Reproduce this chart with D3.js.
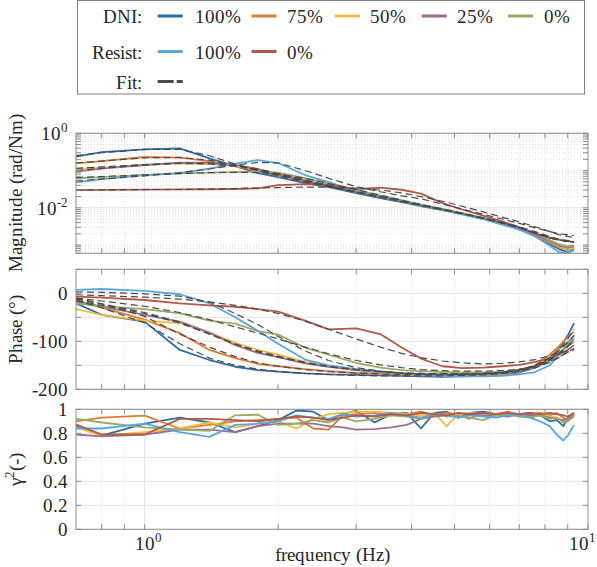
<!DOCTYPE html>
<html><head><meta charset="utf-8">
<style>
@font-face{font-family:"LocSerif";src:local("Liberation Serif"),local("LiberationSerif"),local("LiberationSerif-Regular");}
svg text, svg tspan{font-family:LocSerif,"Liberation Serif","Times New Roman",Times,serif !important;}
</style>
<script src="https://cdn.jsdelivr.net/npm/d3@7"></script>
</head><body style="margin:0">
<svg id="c" width="597" height="567" font-family="Liberation Serif"></svg>
<script>
// ---------------- DATA ----------------
const seriesKeys = ["DNI100","DNI75","DNI50","DNI25","DNI0","R100","R0"];
const legendRows = [
  {label:"DNI:", items:[["DNI100","100%"],["DNI75","75%"],["DNI50","50%"],["DNI25","25%"],["DNI0","0%"]]},
  {label:"Resist:", items:[["R100","100%"],["R0","0%"]]},
  {label:"Fit:", items:[["FIT",""]]}
];

// frequency grid (Hz) for magnitude / phase
const freqMP = [0.7,0.8,1.0,1.2,1.4,1.6,1.8,2.0,2.3,2.6,3.0,3.4,3.8,4.2,4.7,5.2,5.8,6.4,7.0,7.6,8.2,8.6,9.0,9.3];

// magnitude (rad/Nm)
const magDNI100 = [0.235,0.314,0.372,0.395,0.213,0.132,0.0857,0.0668,0.0461,0.036,0.0248,0.0182,0.0142,0.0111,0.0087,0.0068,0.0050,0.0036,0.0027,0.00174,0.00105,0.00078,0.00064,0.00075];
const magDNI75  = [0.156,0.18,0.231,0.221,0.18,0.132,0.097,0.0757,0.052,0.0383,0.0264,0.0194,0.0150,0.0117,0.0089,0.0070,0.0051,0.0037,0.0027,0.00185,0.00118,0.00088,0.00074,0.00082];
const magDNI50  = [0.11,0.12,0.141,0.156,0.15,0.132,0.11,0.0805,0.0556,0.040,0.0275,0.0200,0.0152,0.0118,0.0090,0.0070,0.0051,0.0037,0.0028,0.0019,0.00122,0.00093,0.00076,0.00085];
const magDNI25  = [0.093,0.113,0.141,0.164,0.162,0.141,0.11,0.0805,0.054,0.039,0.027,0.0198,0.0150,0.0117,0.0090,0.0070,0.0052,0.0038,0.0028,0.0019,0.00125,0.00097,0.00085,0.00092];
const magDNI0   = [0.0617,0.0668,0.0757,0.084,0.088,0.091,0.093,0.088,0.063,0.0445,0.030,0.0215,0.0160,0.0122,0.0093,0.0072,0.0054,0.0040,0.0030,0.0021,0.00135,0.00105,0.00092,0.00098];
const magR100   = [0.0482,0.0591,0.0757,0.0857,0.113,0.154,0.191,0.159,0.0757,0.049,0.0281,0.0200,0.0150,0.0115,0.0088,0.0068,0.0050,0.0036,0.0026,0.0017,0.00095,0.00064,0.00062,0.00072];
const magR0     = [0.0299,0.0303,0.0308,0.0312,0.0315,0.032,0.0332,0.0407,0.0434,0.042,0.0318,0.0349,0.0305,0.0240,0.0134,0.0090,0.0062,0.0043,0.0030,0.00202,0.00158,0.0014,0.00127,0.0012];

// magnitude fits
const fitMagDNI100 = [0.25,0.30,0.37,0.37,0.25,0.15,0.10,0.072,0.049,0.037,0.026,0.0192,0.0147,0.0115,0.0088,0.0069,0.0052,0.0039,0.0029,0.0021,0.00155,0.00135,0.00125,0.0012];
const fitMagDNI75  = [0.16,0.18,0.22,0.225,0.19,0.14,0.10,0.076,0.052,0.038,0.0265,0.0195,0.015,0.0117,0.009,0.007,0.0053,0.0039,0.0029,0.0021,0.00155,0.00135,0.00125,0.0012];
const fitMagDNI50  = [0.115,0.125,0.145,0.155,0.15,0.13,0.107,0.082,0.056,0.040,0.027,0.0198,0.0151,0.0118,0.009,0.007,0.0053,0.0039,0.0029,0.0021,0.00157,0.00137,0.00126,0.0012];
const fitMagDNI25  = [0.10,0.115,0.14,0.158,0.158,0.14,0.11,0.082,0.055,0.039,0.027,0.0198,0.0151,0.0118,0.009,0.007,0.0053,0.0039,0.0029,0.0021,0.00158,0.00138,0.00127,0.00121];
const fitMagDNI0   = [0.065,0.069,0.077,0.083,0.088,0.09,0.088,0.08,0.062,0.045,0.031,0.0218,0.016,0.0123,0.0093,0.0072,0.0054,0.0041,0.0031,0.0023,0.0017,0.00145,0.00132,0.00125];
const fitMagR100   = [0.052,0.059,0.072,0.088,0.11,0.14,0.165,0.16,0.10,0.062,0.037,0.027,0.021,0.0175,0.0125,0.0092,0.0067,0.005,0.0038,0.0029,0.0023,0.002,0.0019,0.0018];
const fitMagR0     = [0.030,0.030,0.031,0.031,0.032,0.033,0.034,0.035,0.036,0.036,0.034,0.030,0.025,0.020,0.015,0.011,0.0078,0.0056,0.0042,0.0031,0.0023,0.0019,0.0017,0.0016];

// phase (deg)
const phDNI100 = [-21,-45,-59,-118,-139,-153,-160,-163,-167,-169,-170,-171,-172,-173,-174,-173,-172,-170,-165,-155,-135,-115,-88,-62];
const phDNI75  = [-14,-30,-55,-83,-118,-135,-147,-152,-158,-162,-166,-168,-170,-171,-172,-172,-171,-169,-163,-150,-128,-110,-92,-80];
const phDNI50  = [-33,-45,-57,-62,-82,-103,-118,-128,-143,-152,-160,-165,-168,-170,-171,-171,-170,-168,-162,-152,-135,-118,-100,-90];
const phDNI25  = [-17,-28,-45,-59,-82,-108,-124,-133,-146,-153,-160,-164,-167,-169,-170,-170,-169,-167,-163,-155,-140,-125,-108,-95];
const phDNI0   = [-21,-27,-33,-42,-57,-63,-79,-86,-113,-128,-145,-155,-160,-162,-164,-165,-165,-164,-161,-152,-138,-125,-110,-101];
const phR100   = [7,9,5,-2,-21,-50,-78,-105,-138,-150,-158,-163,-167,-170,-172,-173,-173,-172,-169,-164,-150,-128,-105,-87];
const phR0     = [-7,-9,-14,-21,-25,-28,-33,-38,-57,-75,-73,-85,-113,-136,-152,-156,-155,-152,-149,-143,-135,-128,-118,-108];

// phase fits
const fitPhDNI100 = [-15,-30,-62,-105,-135,-150,-158,-163,-167,-169,-171,-172,-172,-172,-172,-171,-170,-167,-162,-152,-135,-118,-95,-75];
const fitPhDNI75  = [-10,-22,-48,-85,-112,-132,-145,-152,-159,-163,-166,-168,-169,-169,-169,-168,-167,-164,-159,-150,-135,-120,-102,-88];
const fitPhDNI50  = [-15,-25,-42,-62,-85,-105,-120,-131,-144,-152,-159,-163,-166,-167,-168,-168,-167,-165,-160,-152,-138,-125,-110,-98];
const fitPhDNI25  = [-12,-22,-40,-60,-85,-106,-122,-133,-145,-153,-159,-163,-166,-167,-168,-168,-167,-165,-160,-152,-139,-126,-111,-100];
const fitPhDNI0   = [-10,-16,-27,-40,-55,-70,-83,-95,-112,-126,-140,-149,-155,-159,-161,-162,-162,-161,-158,-152,-142,-133,-122,-115];
const fitPhR100   = [3,2,-1,-6,-18,-42,-65,-90,-120,-140,-155,-162,-166,-168,-169,-169,-168,-166,-162,-155,-144,-134,-123,-116];
const fitPhR0     = [-3,-5,-8,-12,-18,-25,-33,-42,-58,-75,-95,-112,-125,-134,-141,-145,-147,-146,-143,-138,-130,-125,-120,-118];

// coherence grid and values
const freqCoh = [0.7,0.8,1.0,1.2,1.4,1.6,1.8,2.0,2.2,2.4,2.6,2.8,3.0,3.3,3.6,3.9,4.2,4.5,4.8,5.1,5.4,5.8,6.2,6.6,7.0,7.4,7.8,8.2,8.5,8.8,9.0,9.3];
const cohDNI100 = [0.86,0.78,0.88,0.93,0.89,0.81,0.86,0.91,0.99,0.98,0.91,0.96,0.99,0.89,0.96,0.97,0.84,0.97,0.98,0.93,0.97,0.98,0.96,0.97,0.96,0.97,0.95,0.90,0.91,0.86,0.93,0.97];
const cohDNI75  = [0.90,0.93,0.947,0.84,0.87,0.90,0.91,0.92,0.93,0.84,0.83,0.95,0.96,0.97,0.95,0.96,0.98,0.95,0.97,0.96,0.92,0.97,0.96,0.98,0.95,0.96,0.97,0.95,0.97,0.93,0.90,0.96];
const cohDNI50  = [0.85,0.78,0.81,0.84,0.89,0.85,0.88,0.90,0.84,0.92,0.96,0.97,0.98,0.98,0.97,0.96,0.95,0.97,0.86,0.96,0.97,0.96,0.95,0.97,0.96,0.94,0.96,0.94,0.93,0.90,0.92,0.96];
const cohDNI25  = [0.79,0.775,0.79,0.83,0.83,0.81,0.86,0.88,0.88,0.88,0.86,0.85,0.83,0.835,0.85,0.87,0.92,0.94,0.95,0.94,0.96,0.95,0.95,0.94,0.96,0.95,0.95,0.93,0.92,0.91,0.92,0.95];
const cohDNI0   = [0.92,0.89,0.85,0.83,0.82,0.95,0.955,0.87,0.88,0.91,0.89,0.93,0.90,0.92,0.95,0.94,0.92,0.96,0.94,0.95,0.93,0.91,0.95,0.96,0.94,0.93,0.95,0.92,0.93,0.89,0.90,0.94];
const cohR100   = [0.84,0.84,0.88,0.81,0.77,0.87,0.88,0.90,0.95,0.93,0.92,0.96,0.94,0.95,0.97,0.95,0.93,0.96,0.95,0.93,0.95,0.94,0.93,0.95,0.95,0.93,0.90,0.86,0.79,0.74,0.78,0.87];
const cohR0     = [0.875,0.79,0.79,0.92,0.92,0.91,0.90,0.92,0.94,0.93,0.91,0.93,0.95,0.94,0.96,0.95,0.97,0.96,0.95,0.97,0.96,0.97,0.96,0.97,0.96,0.97,0.96,0.97,0.96,0.95,0.94,0.97];

// tick values
const xMajorTicks = [1,10];
const xMinorTicks = [0.8,0.9,2,3,4,5,6,7,8,9];
const magTickVals = [0.01,1];
const phTickVals = [-200,-150,-100,-50,0,50];
const phLabelVals = [-200,-100,0];
const cohTickVals = [0,0.2,0.4,0.6,0.8,1];

// ---------------- STYLE ----------------
const colors = {DNI100:"#2f6da6",DNI75:"#dc7a3a",DNI50:"#efbd3c",DNI25:"#9b6f94",DNI0:"#98ab66",R100:"#5ba7dc",R0:"#b0594a",FIT:"#4a4a4a"};
const FONT = "Liberation Serif";
const FONT_CHAIN = "LocSerif, \"Liberation Serif\", \"Times New Roman\", Times, serif";
const textCol = "#262626";

const magData = {DNI100:magDNI100,DNI75:magDNI75,DNI50:magDNI50,DNI25:magDNI25,DNI0:magDNI0,R100:magR100,R0:magR0};
const magFit = {DNI100:fitMagDNI100,DNI75:fitMagDNI75,DNI50:fitMagDNI50,DNI25:fitMagDNI25,DNI0:fitMagDNI0,R100:fitMagR100,R0:fitMagR0};
const phData = {DNI100:phDNI100,DNI75:phDNI75,DNI50:phDNI50,DNI25:phDNI25,DNI0:phDNI0,R100:phR100,R0:phR0};
const phFit = {DNI100:fitPhDNI100,DNI75:fitPhDNI75,DNI50:fitPhDNI50,DNI25:fitPhDNI25,DNI0:fitPhDNI0,R100:fitPhR100,R0:fitPhR0};
const cohData = {DNI100:cohDNI100,DNI75:cohDNI75,DNI50:cohDNI50,DNI25:cohDNI25,DNI0:cohDNI0,R100:cohR100,R0:cohR0};

const svg = d3.select("#c");
const Lx = 76, Rx = 588;
const x = d3.scaleLog().domain([0.7,10]).range([Lx,Rx]);

const panels = [
  {id:"mag", top:133.3, bot:253.3},
  {id:"ph", top:269.3, bot:389.3},
  {id:"coh", top:409.3, bot:529.3}
];
const yMag = d3.scaleLog().domain([6e-4,1]).range([253.3,133.3]);
const yPh = d3.scaleLinear().domain([-200,50]).range([389.3,269.3]);
const yCoh = d3.scaleLinear().domain([0,1]).range([529.3,409.3]);

const gridMajor = "#e3e3e3", gridMinor = "#d6d6d6", boxCol = "#8c8c8c";

const defs = svg.append("defs");
panels.forEach(p=>{
  defs.append("clipPath").attr("id","clip-"+p.id).append("rect")
    .attr("x",Lx).attr("y",p.top).attr("width",Rx-Lx).attr("height",p.bot-p.top);
});

const magMinor = [];
for (let e=-4;e<=0;e++) for (let k=1;k<10;k++){ const v=k*Math.pow(10,e); if(v>=6e-4 && v<=1 && !magTickVals.some(t=>Math.abs(t-v)<1e-12)) magMinor.push(v);}

function vgrid(p){
  const g = svg.append("g");
  xMinorTicks.forEach(v=>g.append("line").attr("x1",x(v)).attr("x2",x(v)).attr("y1",p.top).attr("y2",p.bot)
    .attr("stroke",gridMinor).attr("stroke-width",0.8).attr("stroke-dasharray","1,2"));
  xMajorTicks.forEach(v=>{ if(x(v)<Rx-1) g.append("line").attr("x1",x(v)).attr("x2",x(v)).attr("y1",p.top).attr("y2",p.bot)
    .attr("stroke",gridMajor).attr("stroke-width",1);});
}
function hgrid(vals, y, col, dash){
  const g = svg.append("g");
  vals.forEach(v=>g.append("line").attr("x1",Lx).attr("x2",Rx).attr("y1",y(v)).attr("y2",y(v))
    .attr("stroke",col).attr("stroke-width",dash?0.8:1).attr("stroke-dasharray",dash?"1,2":null));
}
panels.forEach(vgrid);
hgrid(magMinor, yMag, gridMinor, true);
hgrid(magTickVals, yMag, gridMajor, false);
hgrid(phTickVals, yPh, gridMajor, false);
hgrid(cohTickVals, yCoh, gridMajor, false);

function drawLines(pid, freqs, dataObj, y, dashed){
  const g = svg.append("g").attr("clip-path","url(#clip-"+pid+")");
  const line = d3.line().x((d,i)=>x(freqs[i])).y(d=>y(d));
  seriesKeys.forEach(k=>{
    g.append("path").attr("d",line(dataObj[k])).attr("fill","none")
      .attr("stroke", dashed?colors.FIT:colors[k])
      .attr("stroke-width", dashed?1.2:1.8)
      .attr("stroke-dasharray", dashed?"7,4":null)
      .attr("stroke-linejoin","round");
  });
}
drawLines("mag", freqMP, magData, yMag, false);
drawLines("mag", freqMP, magFit, yMag, true);
drawLines("ph", freqMP, phData, yPh, false);
drawLines("ph", freqMP, phFit, yPh, true);
drawLines("coh", freqCoh, cohData, yCoh, false);

const tl = 5;
function box(p, yScale, yTicks, yMinor){
  const g = svg.append("g").attr("stroke",boxCol).attr("stroke-width",1).attr("fill","none");
  g.append("rect").attr("x",Lx).attr("y",p.top).attr("width",Rx-Lx).attr("height",p.bot-p.top);
  xMajorTicks.concat(xMinorTicks).forEach(v=>{
    const xx = x(v);
    g.append("line").attr("x1",xx).attr("x2",xx).attr("y1",p.bot).attr("y2",p.bot-tl);
    g.append("line").attr("x1",xx).attr("x2",xx).attr("y1",p.top).attr("y2",p.top+tl);
  });
  yTicks.concat(yMinor||[]).forEach(v=>{
    const yy = yScale(v);
    g.append("line").attr("x1",Lx).attr("x2",Lx+tl).attr("y1",yy).attr("y2",yy);
    g.append("line").attr("x1",Rx).attr("x2",Rx-tl).attr("y1",yy).attr("y2",yy);
  });
}
box(panels[0], yMag, magTickVals, magMinor);
box(panels[1], yPh, phTickVals);
box(panels[2], yCoh, cohTickVals);

const fs = 19;
function styleText(t){
  return t.attr("font-size",fs).attr("font-family",FONT).attr("fill",textCol)
    .style("font-family",FONT_CHAIN,"important");
}
function txt(parent, xx, yy, anchor){
  return styleText(parent.append("text").attr("x",xx).attr("y",yy).attr("text-anchor",anchor));
}
function powLabel(parent, xx, yy, exp, anchor){
  const t = txt(parent, xx, yy, anchor);
  t.append("tspan").text("10");
  t.append("tspan").attr("font-size",12.5).attr("dy",-8).text(exp);
  return t;
}
magTickVals.forEach(v=>{
  powLabel(svg, 68, yMag(v)+7, String(Math.round(Math.log10(v))), "end");
});
phLabelVals.forEach(v=>{
  txt(svg, 68, yPh(v)+6.5, "end").text(String(v));
});
cohTickVals.forEach(v=>{
  txt(svg, 68, yCoh(v)+6.5, "end").text(d3.format("~g")(v));
});
// x tick labels
powLabel(svg, x(1)+4, 550, "0", "middle");
powLabel(svg, 596, 550, "1", "end");
txt(svg, (Lx+Rx)/2, 561, "middle").text("frequency (Hz)");

function ylab(label, cy, extra){
  const t = styleText(svg.append("text").attr("transform",`translate(22,${cy}) rotate(-90)`).attr("text-anchor","middle"));
  if (extra) extra(t); else t.text(label);
}
ylab("Magnitude (rad/Nm)", 193.3);
ylab("Phase (°)", 329.3);
ylab(null, 469.3, t=>{ t.append("tspan").text("γ"); t.append("tspan").attr("font-size",12.5).attr("dy",-8).text("2"); t.append("tspan").attr("dy",8).text("(-)"); });

// legend
const lg = svg.append("g");
lg.append("rect").attr("x",77.5).attr("y",0.5).attr("width",507).attr("height",93.5).attr("fill","#fff").attr("stroke","#808080").attr("stroke-width",1);
const rowY = [16, 51.5, 81.5];
const itemX = [[157.7,194.5],[251.5,287],[335,370],[421.7,457],[508,544.3]];
legendRows.forEach((row,ri)=>{
  const yy = rowY[ri];
  txt(lg, 142, yy+7, "end").text(row.label);
  row.items.forEach((it,ii)=>{
    const [lx, tx] = itemX[ii];
    lg.append("line").attr("x1",lx).attr("x2",lx+25).attr("y1",yy).attr("y2",yy)
      .attr("stroke",colors[it[0]]).attr("stroke-width",3)
      .attr("stroke-dasharray", it[0]==="FIT" ? "16,3" : null);
    if (it[1]) txt(lg, tx, yy+7, "start").text(it[1]);
  });
});
</script>
</body></html>
